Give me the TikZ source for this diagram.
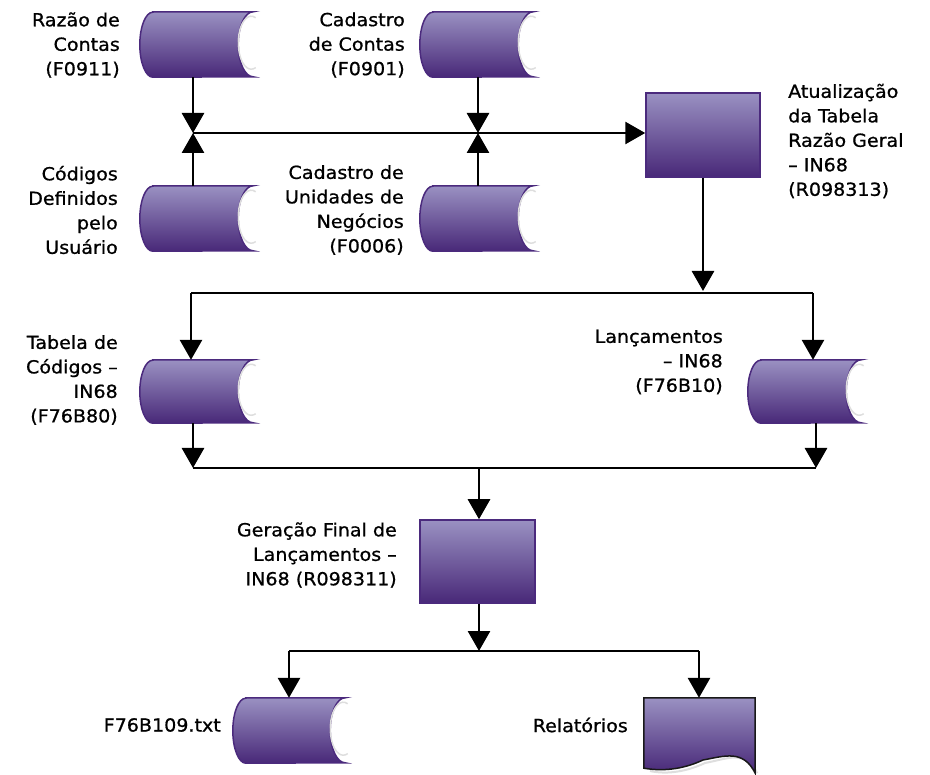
\documentclass[tikz,border=0pt]{standalone}
\usepackage{fontspec}
\setmainfont{DejaVu Sans}[FakeStretch=1.06,FakeBold=0.9]
\usepackage{tikz}
\usetikzlibrary{arrows.meta}
\definecolor{boxtop}{RGB}{154,145,194}
\definecolor{boxbot}{RGB}{72,40,120}
\definecolor{boxedge}{RGB}{75,42,125}
\definecolor{shadowgray}{RGB}{222,222,222}
\tikzset{
  flow/.style={line width=2.8pt,-{Triangle[width=22pt,length=20pt]}},
  plain/.style={line width=2.8pt},
  slot/.style={minimum width=113pt,minimum height=65pt,inner sep=0pt},
  procbox/.style={draw=boxedge,line width=1.5pt,top color=boxtop,bottom color=boxbot,
    minimum width=115pt,minimum height=83pt,inner sep=0pt},
  lbl/.style={font=\fontsize{18}{24.5}\selectfont,inner sep=0pt},
}
% stored data shape drawn round an empty node
\newcommand\storedat[1]{%
  \path[draw=boxedge,line width=1.5pt,top color=boxtop,bottom color=boxbot]
    ([xshift=13pt]#1.north west) -- (#1.north east)
    arc[start angle=90,end angle=270,x radius=15pt,y radius=0.5*\pgfkeysvalueof{/pgf/minimum height}]
    -- ([xshift=13pt]#1.south west)
    arc[start angle=270,end angle=90,x radius=13pt,y radius=0.5*\pgfkeysvalueof{/pgf/minimum height}]
    -- cycle;
  \draw[shadowgray,line width=1.5pt] ([xshift=2.5pt,yshift=-6pt]#1.north east)
    arc[start angle=70,end angle=290,x radius=13pt,y radius=0.5*\pgfkeysvalueof{/pgf/minimum height}-6pt];
}
\begin{document}
\begin{tikzpicture}[x=1pt,y=1pt]
  \useasboundingbox (0,0) rectangle (930,-775);

  % stored data
  \node[slot] (s1) at (196.5,-44.5) {};
  \node[slot] (s2) at (476.5,-44.5) {};
  \node[slot] (s3) at (196.5,-218.5) {};
  \node[slot] (s4) at (476.5,-218.5) {};
  \node[slot,minimum height=63pt] (s5) at (196.5,-391.5) {};
  \node[slot,minimum height=63pt] (s6) at (804.5,-391.5) {};
  \node[slot,minimum width=112pt] (s7) at (289,-730.5) {};
  \begingroup\pgfset{minimum height=65pt}
  \storedat{s1}\storedat{s2}\storedat{s3}\storedat{s4}\storedat{s7}
  \pgfset{minimum height=63pt}
  \storedat{s5}\storedat{s6}
  \endgroup

  % processes
  \node[procbox,minimum width=114pt,minimum height=84pt] (p1) at (703,-135) {};
  \node[procbox] (p2) at (477.5,-561.5) {};

  % report
  \node[minimum width=111pt,minimum height=70pt,inner sep=0pt] (d1) at (699.5,-733) {};
  \draw[shadowgray,line width=2pt]
    ([xshift=2pt,yshift=-5pt]d1.south east) .. controls +(-12,24) and +(22,4) .. (705,-763)
    .. controls (688,-771) and (668,-775) .. (650,-771);
  \path[draw=black!90,line width=1.5pt,top color=boxtop,bottom color=boxbot]
    (d1.north west) -- (d1.north east) -- ([yshift=-5pt]d1.south east)
    .. controls +(-12,24) and +(22,4) .. (703,-760)
    .. controls (686,-768) and (666,-772) .. (d1.south west) -- cycle;

  % labels
  \node[lbl,align=right,anchor=east] (t1) at (120,-45) {Razão de\\Contas\\(F0911)};
  \node[lbl,align=right,anchor=east] (t2) at (405,-45) {Cadastro\\de Contas\\(F0901)};
  \node[lbl,align=right,anchor=east] (t3) at (118,-210) {Códigos\\Definidos\\pelo\\Usuário};
  \node[lbl,align=right,anchor=east] (t4) at (404,-210) {Cadastro de\\Unidades de\\Negócios\\(F0006)};
  \node[lbl,align=left,anchor=west] (t5) at (788,-141) {Atualização\\da Tabela\\Razão Geral\\– IN68\\(R098313)};
  \node[lbl,align=right,anchor=east] (t6) at (118,-380) {Tabela de\\Códigos –\\IN68\\(F76B80)};
  \node[lbl,align=right,anchor=east] (t7) at (723,-362) {Lançamentos\\– IN68\\(F76B10)};
  \node[lbl,align=right,anchor=east] (t8) at (397,-555) {Geração Final de\\Lançamentos –\\IN68 (R098311)};
  \node[lbl,anchor=east] (t9) at (221,-725) {F76B109.txt};
  \node[lbl,anchor=east] (t10) at (628,-725) {Relatórios};

  % junctions
  \coordinate (j1) at (193,-133);
  \coordinate (j2) at (478,-133);
  \coordinate (j3) at (703,-293);
  \coordinate (j4) at (191,-293);
  \coordinate (j5) at (813,-293);
  \coordinate (j6) at (193,-468);
  \coordinate (j7) at (816,-468);
  \coordinate (j8) at (479,-468);
  \coordinate (j9) at (479,-651);
  \coordinate (j10) at (289,-651);
  \coordinate (j11) at (699,-651);

  % connectors
  \draw[flow] (s1.south -| j1) -- (j1);
  \draw[flow] (s3.north -| j1) -- (j1);
  \draw[flow] (s2.south -| j2) -- (j2);
  \draw[flow] (s4.north -| j2) -- (j2);
  \draw[flow] (j1) -- (j1 -| p1.west);
  \draw[flow] (p1.south) -- ([yshift=2pt]j3);
  \draw[plain] (j4) -- (j5);
  \draw[flow] (j4) -- (j4 |- s5.north);
  \draw[flow] (j5) -- (j5 |- s6.north);
  \draw[flow] (s5.south -| j6) -- (j6);
  \draw[flow] (s6.south -| j7) -- (j7);
  \draw[plain] (j6) -- (j7);
  \draw[flow] (j8) -- (p2.north -| j8);
  \draw[flow] (p2.south -| j9) -- (j9);
  \draw[plain] (j10) -- (j11);
  \draw[flow] (j10) -- (s7.north);
  \draw[flow] (j11) -- (d1.north -| j11);
\end{tikzpicture}
\end{document}
